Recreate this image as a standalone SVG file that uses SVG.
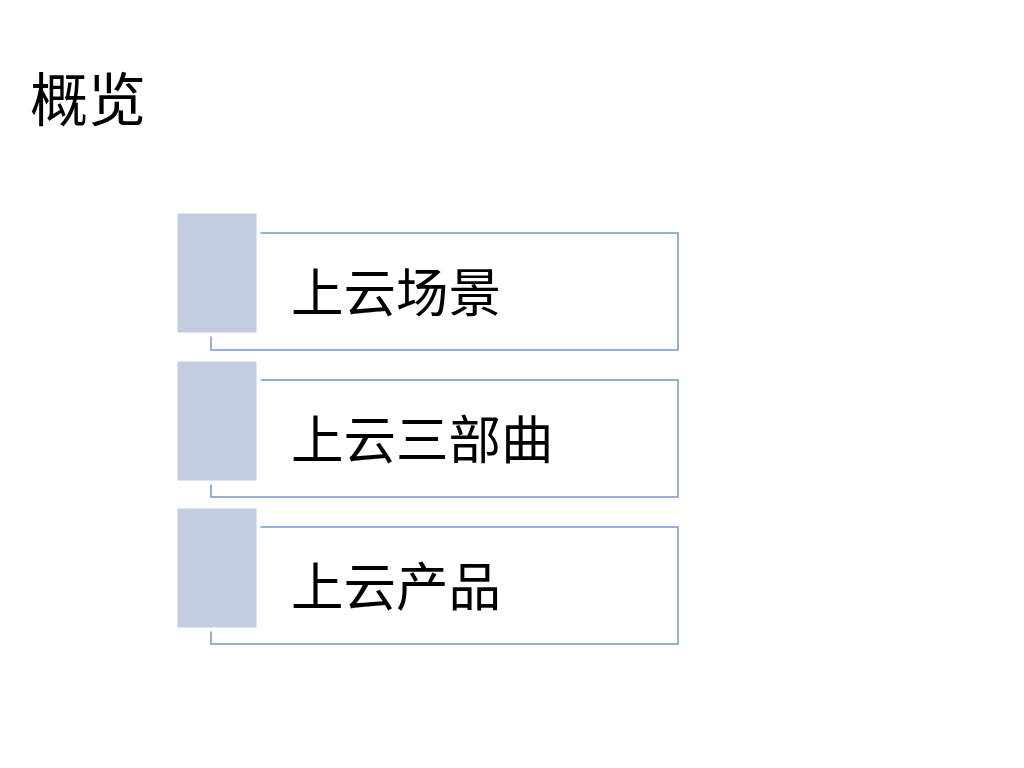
<svg xmlns="http://www.w3.org/2000/svg" width="1024" height="768" viewBox="0 0 1024 768">
<style>
.frame{fill:#ffffff;stroke:#7c9dcc;stroke-width:1.6}
.tab{fill:#c2cde2;stroke:#ffffff;stroke-width:4}
.lbl{font-family:"Noto Sans CJK SC","Noto Sans",sans-serif;font-size:52.500px;fill:#000000}
.title{font-family:"Noto Sans CJK SC","Noto Sans",sans-serif;font-size:58px;fill:#000000}
</style>
<rect width="1024" height="768" fill="#ffffff"/>
<text class="title" x="30" y="121">概览</text>
<g id="node1">
<rect class="frame" x="211" y="233" width="467" height="117"/>
<rect class="tab" x="175.500" y="211.500" width="83" height="123"/>
<text class="lbl" x="291" y="312">上云场景</text>
</g>
<g id="node2">
<rect class="frame" x="211" y="380" width="467" height="117"/>
<rect class="tab" x="175.500" y="359.500" width="83" height="123"/>
<text class="lbl" x="291" y="459">上云三部曲</text>
</g>
<g id="node3">
<rect class="frame" x="211" y="527" width="467" height="117"/>
<rect class="tab" x="175.500" y="506.500" width="83" height="123"/>
<text class="lbl" x="291" y="606">上云产品</text>
</g>
<g id="connectors"></g>
</svg>
